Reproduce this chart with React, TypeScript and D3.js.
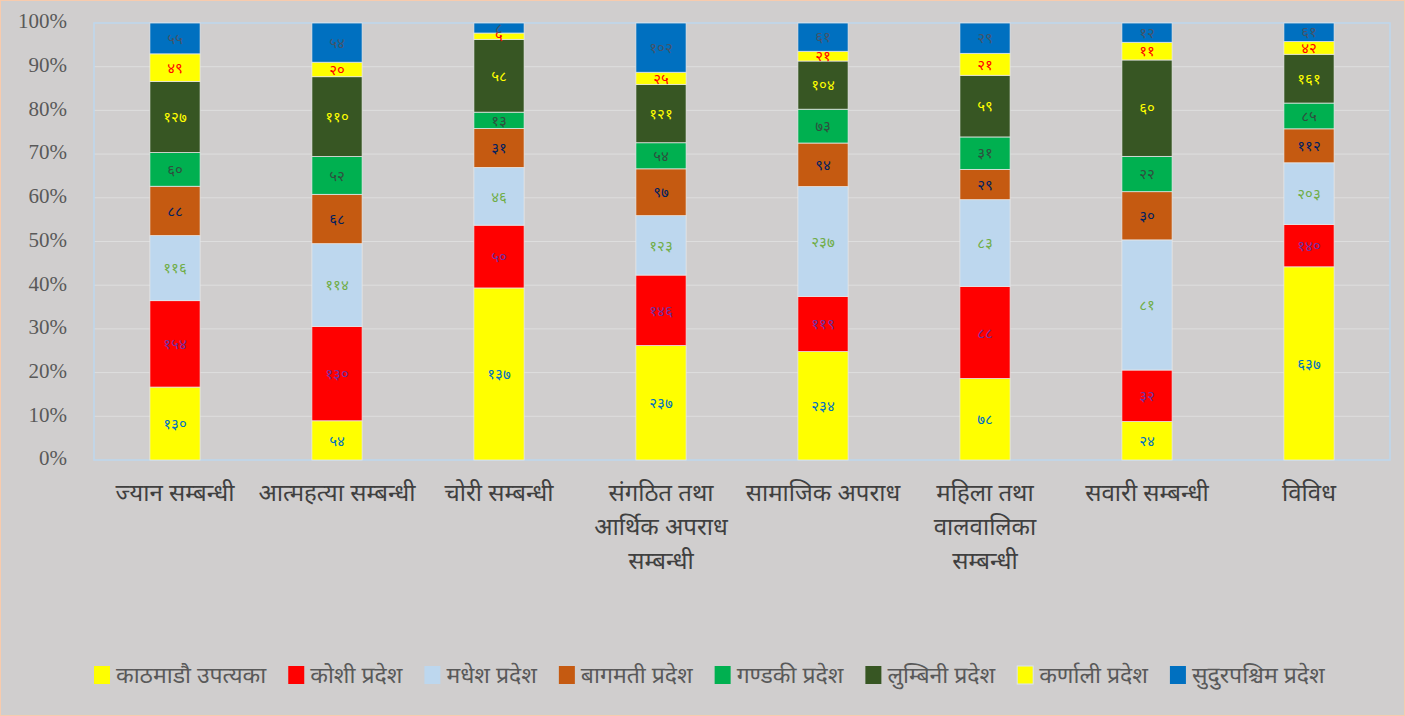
import * as d3 from "d3";
import React, { useRef, useEffect } from "react";

const categories = [
  ["ज्यान सम्बन्धी"],
  ["आत्महत्या सम्बन्धी"],
  ["चोरी सम्बन्धी"],
  ["संगठित तथा", "आर्थिक अपराध", "सम्बन्धी"],
  ["सामाजिक अपराध"],
  ["महिला तथा", "वालवालिका", "सम्बन्धी"],
  ["सवारी सम्बन्धी"],
  ["विविध"],
];

const seriesNames = [
  "काठमाडौ उपत्यका",
  "कोशी प्रदेश",
  "मधेश प्रदेश",
  "बागमती प्रदेश",
  "गण्डकी प्रदेश",
  "लुम्बिनी प्रदेश",
  "कर्णाली प्रदेश",
  "सुदुरपश्चिम प्रदेश",
];

// one array per series, values in category order
const kathmandu = [130, 54, 137, 237, 234, 78, 24, 637];
const koshi = [154, 130, 50, 146, 119, 88, 32, 140];
const madhesh = [116, 114, 46, 123, 237, 83, 81, 203];
const bagmati = [88, 68, 31, 97, 94, 29, 30, 112];
const gandaki = [60, 52, 13, 54, 73, 31, 22, 85];
const lumbini = [127, 110, 58, 121, 104, 59, 60, 161];
const karnali = [49, 20, 5, 25, 21, 21, 11, 42];
const sudur = [55, 54, 8, 102, 61, 29, 12, 61];

const seriesValues = [kathmandu, koshi, madhesh, bagmati, gandaki, lumbini, karnali, sudur];
const fills = ["#ffff00", "#ff0000", "#bdd7ee", "#c55a11", "#00b050", "#375623", "#ffff00", "#0070c0"];
const labelColors = ["#0070c0", "#7030a0", "#70ad47", "#002060", "#2f4f3f", "#ffff00", "#ff0000", "#44546a"];
const yTicks = [0, 0.1, 0.2, 0.3, 0.4, 0.5, 0.6, 0.7, 0.8, 0.9, 1];

const devDigits = "०१२३४५६७८९";
const toDev = (n) => String(n).replace(/[0-9]/g, (c) => devDigits[+c]);

const W = 1405, H = 716;
const font = "'Liberation Serif', 'Times New Roman', serif";
const devFont = "'Noto Sans Devanagari', 'Lohit Devanagari', 'Mangal', 'Noto Sans', sans-serif";

function App() {
  const ref = useRef();

  useEffect(() => {
    const svg = d3.select(ref.current);
    svg.selectAll("*").remove();

    const left = 94, right = 1390, top = 23, bottom = 460;

    svg.append("rect").attr("x", 0.5).attr("y", 0.5).attr("width", W - 1).attr("height", H - 1)
      .attr("fill", "#d0cece").attr("stroke", "#f8cbad");

    const x = d3.scaleBand().domain(d3.range(categories.length)).range([left, right]).paddingInner(0.69).paddingOuter(0.345);
    const y = d3.scaleLinear().domain([0, 1]).range([bottom, top]);

    // gridlines
    svg.append("g").selectAll("line").data(yTicks.slice(1, -1)).enter().append("line")
      .attr("x1", left).attr("x2", right)
      .attr("y1", (d) => y(d)).attr("y2", (d) => y(d))
      .attr("stroke", "#dedede").attr("stroke-width", 1);

    svg.append("rect").attr("x", left).attr("y", top).attr("width", right - left).attr("height", bottom - top)
      .attr("fill", "none").attr("stroke", "#bdd7ee").attr("stroke-width", 1.5);

    // y tick labels
    svg.append("g").selectAll("text").data(yTicks).enter().append("text")
      .attr("x", 67).attr("y", (d) => y(d) - 2)
      .attr("dy", "0.35em").attr("text-anchor", "end")
      .attr("font-family", font).attr("font-size", 21).attr("fill", "#595959")
      .text((d) => Math.round(d * 100) + "%");

    // stacked data
    const rows = categories.map((c, i) => {
      const row = { idx: i };
      seriesValues.forEach((s, j) => (row["s" + j] = s[i]));
      return row;
    });
    const keys = seriesNames.map((_, j) => "s" + j);
    const stacked = d3.stack().keys(keys).offset(d3.stackOffsetExpand)(rows);

    stacked.forEach((layer, j) => {
      const g = svg.append("g");
      g.selectAll("rect").data(layer).enter().append("rect")
        .attr("x", (d) => x(d.data.idx))
        .attr("width", x.bandwidth())
        .attr("y", (d) => y(d[1]))
        .attr("height", (d) => y(d[0]) - y(d[1]))
        .attr("fill", fills[j])
        .attr("stroke", "#e8e8e8").attr("stroke-width", 0.75);
    });

    stacked.forEach((layer, j) => {
      svg.append("g").selectAll("text").data(layer).enter().append("text")
        .attr("x", (d) => x(d.data.idx) + x.bandwidth() / 2)
        .attr("y", (d) => (y(d[0]) + y(d[1])) / 2)
        .attr("dy", "0.35em").attr("text-anchor", "middle")
        .attr("font-family", devFont).attr("font-size", 15)
        .attr("fill", labelColors[j])
        .text((d) => toDev(d.data["s" + j]));
    });

    // category labels
    categories.forEach((lines, i) => {
      const t = svg.append("text")
        .attr("text-anchor", "middle")
        .attr("font-family", devFont).attr("font-size", 24).attr("fill", "#404040");
      lines.forEach((ln, k) => {
        t.append("tspan").attr("x", x(i) + x.bandwidth() / 2).attr("y", 501 + k * 34).text(ln);
      });
    });

    // legend
    const lg = svg.append("g").attr("transform", "translate(" + left + ",675)");
    let cx = 0;
    seriesNames.forEach((name, j) => {
      const item = lg.append("g").attr("transform", "translate(" + cx + ",0)");
      item.append("rect").attr("x", 0).attr("y", -9).attr("width", 16).attr("height", 18)
        .attr("fill", fills[j]).attr("stroke", j === 6 ? "#dae3f3" : "none");
      const t = item.append("text").attr("x", 22).attr("y", 0).attr("dy", "0.35em")
        .attr("font-family", devFont).attr("font-size", 23).attr("fill", "#595959").text(name);
      cx += 22 + t.node().getComputedTextLength() + 22;
    });
  }, []);

  return (
    <svg ref={ref} width={W} height={H} style={{ position: "absolute", left: 0, top: 0 }}></svg>
  );
}

export default App;
